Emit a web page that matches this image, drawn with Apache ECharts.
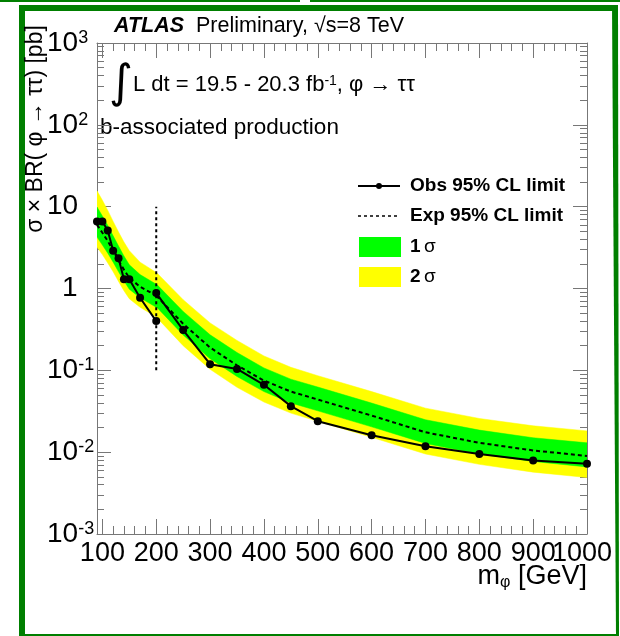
<!DOCTYPE html>
<html>
<head>
<meta charset="utf-8">
<script src="https://cdn.jsdelivr.net/npm/echarts@6/dist/echarts.min.js"></script>
<style>
  html, body { margin: 0; padding: 0; background: #fff; }
  #chart { width: 620px; height: 636px; }
</style>
</head>
<body>
<div id="chart"></div>
<script>
// Low-mass analysis (90-200 GeV)
const massLow = [90, 100, 110, 120, 130, 140, 150, 170, 200];
const obsLow  = [6.6, 6.6, 5.1, 2.9, 2.35, 1.30, 1.30, 0.77, 0.40];
const expLow  = [6.0, 4.8, 3.8, 2.9, 2.2, 1.7, 1.35, 1.05, 0.82];
const plus2Low  = [15.6, 12.0, 9.0, 6.6, 4.9, 3.7, 2.9, 2.1, 1.57];
const plus1Low  = [9.9, 7.7, 5.9, 4.4, 3.3, 2.5, 1.95, 1.48, 1.13];
const minus1Low = [4.25, 3.4, 2.7, 2.1, 1.6, 1.24, 0.98, 0.77, 0.59];
const minus2Low = [3.2, 2.6, 2.05, 1.6, 1.22, 0.94, 0.75, 0.59, 0.45];

// High-mass analysis (200-1000 GeV)
const massHigh = [200, 250, 300, 350, 400, 450, 500, 600, 700, 800, 900, 1000];
const obsHigh  = [0.88, 0.31, 0.119, 0.104, 0.0665, 0.0365, 0.0239, 0.0161, 0.0118, 0.0095, 0.0079, 0.0072];
const expHigh  = [0.82, 0.37, 0.19, 0.115, 0.075, 0.055, 0.044, 0.028, 0.0175, 0.013, 0.0105, 0.009];
const plus2High  = [1.58, 0.73, 0.38, 0.232, 0.150, 0.109, 0.086, 0.055, 0.0345, 0.0258, 0.0210, 0.0182];
const plus1High  = [1.14, 0.525, 0.272, 0.165, 0.107, 0.078, 0.0625, 0.0398, 0.0249, 0.0186, 0.0150, 0.0130];
const minus1High = [0.60, 0.27, 0.139, 0.084, 0.055, 0.040, 0.032, 0.0204, 0.0128, 0.0095, 0.0077, 0.0066];
const minus2High = [0.45, 0.20, 0.103, 0.062, 0.041, 0.030, 0.0238, 0.0152, 0.0095, 0.0071, 0.0057, 0.0049];

// Boundary between the two analyses
const splitMass = 200;
const splitRange = [0.1, 10];

// Axis ticks
const xTickValues = [100, 200, 300, 400, 500, 600, 700, 800, 900, 1000];
const xLabelValues = [100, 200, 300, 400, 500, 600, 700, 800, 900];
const xLastLabel = [1000];
const yTickValues = [0.001, 0.01, 0.1, 1, 10, 100, 1000];

const xMinorValues = [];
for (let m = 100; m <= 1000; m += 20) if (m % 100 !== 0) xMinorValues.push(m);
const yMinorValues = [];
for (let e = -3; e < 3; e++) for (let k = 2; k <= 9; k++) yMinorValues.push(+(k * Math.pow(10, e)).toPrecision(3));

const FONT = "'Liberation Sans', Arial, Helvetica, sans-serif";
const AXIS_COLOR = '#777';
const YELLOW = '#ffff00';
const GREEN = '#00ff00';
const FRAME = '#007f00';

const chart = echarts.init(document.getElementById('chart'), null, { renderer: 'canvas' });

function xAxisDef(pos, tickValues, len, showLine, labelValues, labelPad) {
  return {
    type: 'value', position: pos, min: 90, max: 1000,
    axisLine: { show: showLine, onZero: false, lineStyle: { color: AXIS_COLOR, width: 1 } },
    axisTick: { show: true, inside: true, length: len, customValues: tickValues, lineStyle: { color: AXIS_COLOR, width: 1 } },
    axisLabel: labelValues ? {
      show: true, customValues: labelValues, margin: 6,
      showMinLabel: true, showMaxLabel: true, hideOverlap: false,
      formatter: function (v) { return '{n|' + v + '}'; },
      rich: {
        n: { fontFamily: FONT, fontSize: 27, color: '#000', padding: [0, labelPad || 0, 0, 0] }
      }
    } : { show: false },
    splitLine: { show: false }
  };
}

function yAxisDef(pos, values, len, showLine, showLabel) {
  return {
    type: 'log', logBase: 10, position: pos, min: 0.001, max: 1000,
    axisLine: { show: showLine, onZero: false, lineStyle: { color: AXIS_COLOR, width: 1 } },
    axisTick: { show: true, inside: true, length: len, customValues: values, lineStyle: { color: AXIS_COLOR, width: 1 } },
    axisLabel: showLabel ? {
      show: true, customValues: values, margin: 50, align: 'left',
      showMinLabel: true, showMaxLabel: true,
      formatter: function (v) {
        const e = Math.round(Math.log10(v));
        if (e === 0) return '{one|1}';
        if (e === 1) return '{n|10}';
        return '{n|10}{sup|' + e + '}';
      },
      rich: {
        n: { fontFamily: FONT, fontSize: 28, color: '#000' },
        one: { fontFamily: FONT, fontSize: 28, color: '#000', padding: [0, 0, 0, 15] },
        sup: { fontFamily: FONT, fontSize: 18, color: '#000', verticalAlign: 'top' }
      }
    } : { show: false },
    splitLine: { show: false }
  };
}

function bandSeries(name, xs, lo, hi, color, z) {
  return {
    type: 'custom', name: name, z: z, silent: true, clip: true,
    xAxisIndex: 0, yAxisIndex: 0,
    data: xs.map((x, i) => [x, lo[i], hi[i]]),
    encode: { x: 0, y: [1, 2] },
    itemStyle: { color: color },
    renderItem: function (params, api) {
      if (params.dataIndex !== 0) return null;
      const upper = xs.map((x, i) => api.coord([x, hi[i]]));
      const lower = xs.map((x, i) => api.coord([x, lo[i]])).reverse();
      return { type: 'polygon', shape: { points: upper.concat(lower) }, style: { fill: color, stroke: color, lineWidth: 0.5 } };
    }
  };
}

function pairs(xs, ys) { return xs.map((x, i) => [x, ys[i]]); }

const expStyle = { color: '#000', width: 2, type: [4, 3] };
const obsStyle = { color: '#000', width: 2 };

const option = {
  animation: false,
  backgroundColor: '#fff',
  grid: { left: 97, top: 43, width: 490, height: 491, containLabel: false },
  xAxis: [
    xAxisDef('bottom', xTickValues, 15, true, xLabelValues, 0),
    xAxisDef('bottom', xMinorValues, 8, false, xLastLabel, 10),
    xAxisDef('top', xTickValues, 15, true, null),
    xAxisDef('top', xMinorValues, 8, false, null)
  ],
  yAxis: [
    yAxisDef('left', yTickValues, 14, true, true),
    yAxisDef('left', yMinorValues, 7, false, false),
    yAxisDef('right', yTickValues, 14, true, false),
    yAxisDef('right', yMinorValues, 7, false, false)
  ],
  series: [
    bandSeries('2 σ', massLow, minus2Low, plus2Low, YELLOW, 1),
    bandSeries('1 σ', massLow, minus1Low, plus1Low, GREEN, 2),
    bandSeries('2 σ', massHigh, minus2High, plus2High, YELLOW, 1),
    bandSeries('1 σ', massHigh, minus1High, plus1High, GREEN, 2),
    {
      type: 'line', name: 'Exp 95% CL limit', z: 3, data: pairs(massLow, expLow),
      showSymbol: false, symbol: 'none', lineStyle: expStyle, silent: true
    },
    {
      type: 'line', name: 'Exp 95% CL limit', z: 3, data: pairs(massHigh, expHigh),
      showSymbol: false, symbol: 'none', lineStyle: expStyle, silent: true
    },
    {
      type: 'line', name: 'analysis boundary', z: 3,
      data: [[splitMass, splitRange[0]], [splitMass, splitRange[1]]],
      showSymbol: false, symbol: 'none', lineStyle: { color: '#000', width: 2, type: [3, 3] }, silent: true
    },
    {
      type: 'line', name: 'Obs 95% CL limit', z: 4, data: pairs(massLow, obsLow),
      symbol: 'circle', symbolSize: 8, showSymbol: true,
      itemStyle: { color: '#000' }, lineStyle: obsStyle, silent: true
    },
    {
      type: 'line', name: 'Obs 95% CL limit', z: 4, data: pairs(massHigh, obsHigh),
      symbol: 'circle', symbolSize: 8, showSymbol: true,
      itemStyle: { color: '#000' }, lineStyle: obsStyle, silent: true
    }
  ],
  graphic: [
    // outer frame
    { type: 'rect', shape: { x: 0, y: 0, width: 300, height: 2 }, style: { fill: FRAME }, silent: true },
    { type: 'rect', shape: { x: 310, y: 0, width: 310, height: 2 }, style: { fill: FRAME }, silent: true },
    { type: 'rect', shape: { x: 19, y: 5, width: 599, height: 6 }, style: { fill: FRAME }, silent: true },
    { type: 'rect', shape: { x: 19, y: 5, width: 6, height: 631 }, style: { fill: FRAME }, silent: true },
    { type: 'polygon', shape: { points: [[612, 5], [618, 5], [619, 636], [616, 636]] }, style: { fill: FRAME }, silent: true },
    { type: 'rect', shape: { x: 19, y: 634, width: 600, height: 2 }, style: { fill: FRAME }, silent: true },

    // header texts
    {
      type: 'text', x: 114, y: 26, silent: true,
      style: {
        text: '{a|ATLAS}{p|  Preliminary, √s=8 TeV}', verticalAlign: 'middle',
        rich: {
          a: { fontFamily: FONT, fontSize: 21.5, fontWeight: 'bold', fontStyle: 'italic', fill: '#000' },
          p: { fontFamily: FONT, fontSize: 21.5, fill: '#000' }
        }
      }
    },
    {
      type: 'text', x: 109, y: 85, silent: true,
      style: { text: '∫', fontFamily: "'DejaVu Sans', sans-serif", fontSize: 46, fill: '#000', verticalAlign: 'middle' }
    },
    {
      type: 'text', x: 133, y: 85, silent: true,
      style: {
        text: '{t|L dt = 19.5 - 20.3 fb}{s|-1}{t|, φ → ττ}',
        verticalAlign: 'middle',
        rich: {
          t: { fontFamily: FONT, fontSize: 22, fill: '#000' },
          s: { fontFamily: FONT, fontSize: 14, fill: '#000', verticalAlign: 'top' }
        }
      }
    },
    {
      type: 'text', x: 100, y: 128, silent: true,
      style: { text: 'b-associated production', fontFamily: FONT, fontSize: 22.5, fill: '#000', verticalAlign: 'middle' }
    },

    // legend
    { type: 'line', shape: { x1: 358, y1: 186, x2: 400, y2: 186 }, style: { stroke: '#000', lineWidth: 2 }, silent: true },
    { type: 'circle', shape: { cx: 379, cy: 186, r: 3 }, style: { fill: '#000' }, silent: true },
    {
      type: 'text', x: 410, y: 186, silent: true,
      style: { text: 'Obs 95% CL limit', fontFamily: FONT, fontSize: 19, fontWeight: 'bold', fill: '#000', verticalAlign: 'middle' }
    },
    { type: 'line', shape: { x1: 358, y1: 216, x2: 400, y2: 216 }, style: { stroke: '#000', lineWidth: 1.5, lineDash: [3, 3] }, silent: true },
    {
      type: 'text', x: 410, y: 216, silent: true,
      style: { text: 'Exp 95% CL limit', fontFamily: FONT, fontSize: 19, fontWeight: 'bold', fill: '#000', verticalAlign: 'middle' }
    },
    { type: 'rect', shape: { x: 359, y: 237, width: 42, height: 20 }, style: { fill: GREEN }, silent: true },
    {
      type: 'text', x: 410, y: 247, silent: true,
      style: {
        text: '{b|1} {s|σ}', verticalAlign: 'middle',
        rich: {
          b: { fontFamily: FONT, fontSize: 19, fontWeight: 'bold', fill: '#000' },
          s: { fontFamily: FONT, fontSize: 19, fill: '#000' }
        }
      }
    },
    { type: 'rect', shape: { x: 359, y: 267, width: 42, height: 20 }, style: { fill: YELLOW }, silent: true },
    {
      type: 'text', x: 410, y: 277, silent: true,
      style: {
        text: '{b|2} {s|σ}', verticalAlign: 'middle',
        rich: {
          b: { fontFamily: FONT, fontSize: 19, fontWeight: 'bold', fill: '#000' },
          s: { fontFamily: FONT, fontSize: 19, fill: '#000' }
        }
      }
    },

    // axis titles
    {
      type: 'text', x: 36, y: 129, rotation: Math.PI / 2, silent: true,
      style: { text: 'σ × BR( φ → ττ) [pb]', fontFamily: FONT, fontSize: 23, fill: '#000', align: 'center', verticalAlign: 'middle' }
    },
    {
      type: 'text', x: 587, y: 577, silent: true,
      style: {
        text: '{t|m}{s|φ}{t| [GeV]}', align: 'right', verticalAlign: 'middle',
        rich: {
          t: { fontFamily: FONT, fontSize: 27, fill: '#000' },
          s: { fontFamily: FONT, fontSize: 16, fill: '#000', verticalAlign: 'bottom', padding: [10, 0, 0, 0] }
        }
      }
    }
  ]
};

chart.setOption(option);
</script>
</body>
</html>
